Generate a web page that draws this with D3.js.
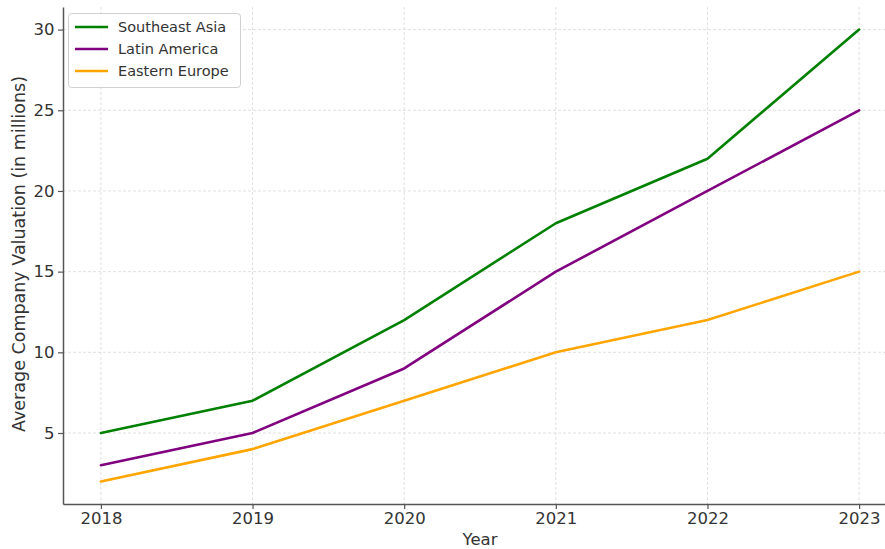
<!DOCTYPE html>
<html>
<head>
<meta charset="utf-8">
<script src="https://cdn.jsdelivr.net/npm/d3@7"></script>
<style>
  html, body { margin: 0; padding: 0; background: #fff; }
  svg { display: block; font-family: "DejaVu Sans", sans-serif; }
</style>
</head>
<body>
<svg id="chart" width="885" height="549"></svg>
<script>
// Average company valuation by region, 2018–2023
const years = [2018, 2019, 2020, 2021, 2022, 2023];
const southeastAsia = [5, 7, 12, 18, 22, 30];
const latinAmerica = [3, 5, 9, 15, 20, 25];
const easternEurope = [2, 4, 7, 10, 12, 15];
const yTicks = [5, 10, 15, 20, 25, 30];

const series = [
  { name: "Southeast Asia", values: southeastAsia, color: "#008000" },
  { name: "Latin America", values: latinAmerica, color: "#800080" },
  { name: "Eastern Europe", values: easternEurope, color: "#FFA500" }
];

const svg = d3.select("#chart");
const plotLeft = 63, plotRight = 897, plotTop = 7, plotBottom = 504;

const x = d3.scaleLinear().domain([2017.75, 2023.25]).range([plotLeft, plotRight]);
const y = d3.scaleLinear().domain([0.6, 31.4]).range([plotBottom, plotTop]);

// grid
const grid = svg.append("g").attr("stroke", "#d8d8d8").attr("stroke-width", 0.8)
  .attr("stroke-dasharray", "3,2");
grid.selectAll(".gx").data(years).join("line")
  .attr("x1", d => x(d)).attr("x2", d => x(d)).attr("y1", plotTop).attr("y2", plotBottom);
grid.selectAll(".gy").data(yTicks).join("line")
  .attr("x1", plotLeft).attr("x2", plotRight).attr("y1", d => y(d)).attr("y2", d => y(d));

// axes
const xAxis = svg.append("g").attr("transform", `translate(0,${plotBottom})`)
  .call(d3.axisBottom(x).tickValues(years).tickFormat(d3.format("d"))
    .tickSize(5).tickSizeOuter(0).tickPadding(3.5));
const yAxis = svg.append("g").attr("transform", `translate(${plotLeft},0)`)
  .call(d3.axisLeft(y).tickValues(yTicks).tickSize(5).tickSizeOuter(0).tickPadding(3.5));
[xAxis, yAxis].forEach(a => {
  a.select(".domain").attr("stroke", "#555").attr("stroke-width", 1.5);
  a.selectAll(".tick line").attr("stroke", "#555").attr("stroke-width", 1.2);
  a.selectAll(".tick text").attr("fill", "#333").style("font-size", "16.5px")
    .style("font-family", "DejaVu Sans, sans-serif");
});

// axis titles
svg.append("text").attr("x", 480).attr("y", 545)
  .attr("text-anchor", "middle").attr("fill", "#333").style("font-size", "16.5px").text("Year");
svg.append("text").attr("transform", `translate(25,254) rotate(-90)`)
  .attr("text-anchor", "middle").attr("fill", "#333").style("font-size", "17.5px")
  .text("Average Company Valuation (in millions)");

// lines
const line = d3.line().x((d, i) => x(years[i])).y(d => y(d));
svg.append("g").selectAll("path").data(series).join("path")
  .attr("d", d => line(d.values)).attr("fill", "none")
  .attr("stroke", d => d.color).attr("stroke-width", 2.6)
  .attr("stroke-linejoin", "round").attr("stroke-linecap", "round");

// legend
const lg = svg.append("g");
lg.append("rect").attr("x", 68.5).attr("y", 13.5).attr("width", 172).attr("height", 74).attr("rx", 3)
  .attr("fill", "#fff").attr("fill-opacity", 0.85).attr("stroke", "#d0d0d0");
series.forEach((s, i) => {
  const yy = 27 + i * 22;
  lg.append("line").attr("x1", 75).attr("x2", 108).attr("y1", yy).attr("y2", yy)
    .attr("stroke", s.color).attr("stroke-width", 2.6);
  lg.append("text").attr("x", 118).attr("y", yy).attr("dy", "0.35em")
    .attr("fill", "#333").style("font-size", "14.5px").text(s.name);
});
</script>
</body>
</html>
